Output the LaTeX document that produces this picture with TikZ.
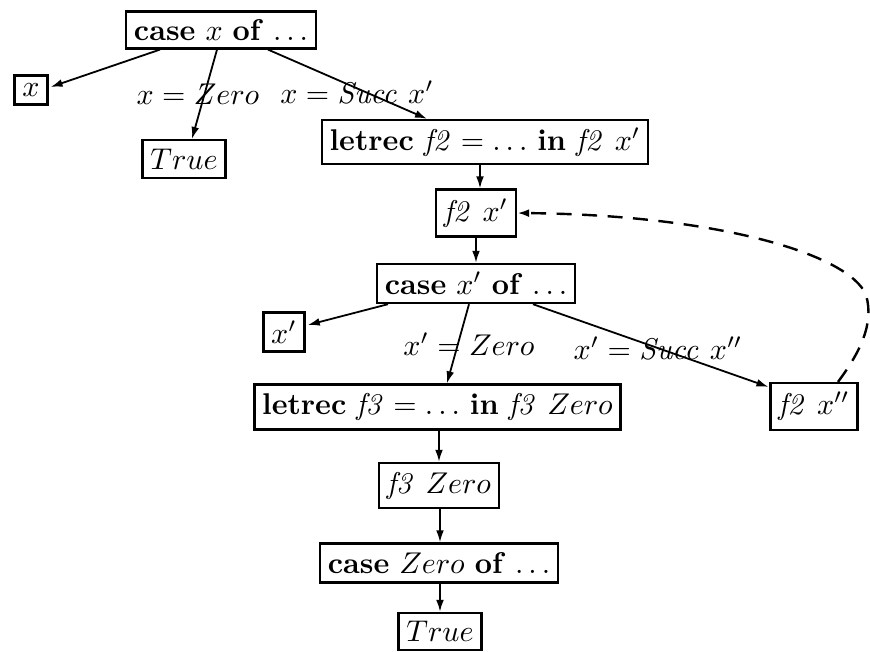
\documentclass[tikz,border=0pt]{standalone}
\usetikzlibrary{arrows.meta,calc}
\begin{document}
\begin{tikzpicture}[x=0.3333pt,y=-0.3333pt,
  box/.style={draw,line width=0.8pt,rectangle,inner sep=2.6pt,minimum height=13pt},
  edge/.style={line width=0.6pt,-{Latex[length=4pt,width=2.6pt]}},
  back/.style={line width=0.8pt,dashed,dash pattern=on 5pt off 3.5pt,-{Latex[length=4pt,width=2.6pt]}},
  lab/.style={inner sep=0pt}]
\useasboundingbox (0,0) rectangle (870,652);
\node[box,minimum height=11.3pt] (A) at (221,30) {\textbf{case} $x$ \textbf{of} $\ldots$};
\node[box,minimum height=9.7pt] (X) at (31,90) {$x$};
\node[box,minimum height=12.6pt] (T1) at (184,159) {$True$};
\node[box] (LF2) at (485,142) {\textbf{letrec} $\mathit{f2} = \ldots$ \textbf{in} $\mathit{f2}\ x'$};
\node[box,minimum height=15.6pt] (F2p) at (476,213) {$\mathit{f2}\ x'$};
\node[box] (CXp) at (476,283.5) {\textbf{case} $x'$ \textbf{of} $\ldots$};
\node[box] (Xp) at (284,332) {$x'$};
\node[box,minimum height=15pt] (LF3) at (437.5,407) {\textbf{letrec} $\mathit{f3} = \ldots$ \textbf{in} $\mathit{f3}\ Zero$};
\node[box,minimum height=15.6pt] (F2pp) at (814,406.5) {$\mathit{f2}\ x''$};
\node[box,minimum height=15pt] (F3Z) at (439,485.5) {$\mathit{f3}\ Zero$};
\node[box] (CZ) at (439,563) {\textbf{case} $Zero$ \textbf{of} $\ldots$};
\node[box,minimum height=12.3pt] (T2) at (440,631.5) {$True$};

\node[lab] (l1) at (198,94) {$x = Zero$};
\node[lab] (l2) at (357,92) {$x = \mathit{Succ}\ x'$};
\node[lab] (l3) at (469,344) {$x' = Zero$};
\node[lab] (l4) at (658,348) {$x' = \mathit{Succ}\ x''$};

\draw[edge] ($(A.south)+(-61,0)$) -- ($(X.east)+(2,-3)$);
\draw[edge] ($(A.south)+(-4,0)$) -- ($(T1.north)+(8,0)$);
\draw[edge] ($(A.south)+(47,0)$) -- ($(LF2.north)+(-58,0)$);
\draw[edge] ($(LF2.south)+(-5,0)$) -- ($(F2p.north)+(4,0)$);
\draw[edge] (F2p.south) -- (CXp.north);
\draw[edge] ($(CXp.south)+(-88,0)$) -- ($(Xp.east)+(2,-7)$);
\draw[edge] ($(CXp.south)+(-7,0)$) -- ($(LF3.north)+(9.5,0)$);
\draw[edge] ($(CXp.south)+(57,0)$) -- ($(F2pp.north west)+(-1,5)$);
\draw[edge] ($(LF3.south)+(1.5,0)$) -- (F3Z.north);
\draw[edge] ($(F3Z.south)+(1,0)$) -- ($(CZ.north)+(1,0)$);
\draw[edge] ($(CZ.south)+(1,0)$) -- (T2.north);
\draw[back] ($(F2pp.north)+(24,0)$) .. controls (858,355) and (875,325) .. (866,295)
  .. controls (850,255) and (720,215) .. (F2p.east);
\end{tikzpicture}
\end{document}
